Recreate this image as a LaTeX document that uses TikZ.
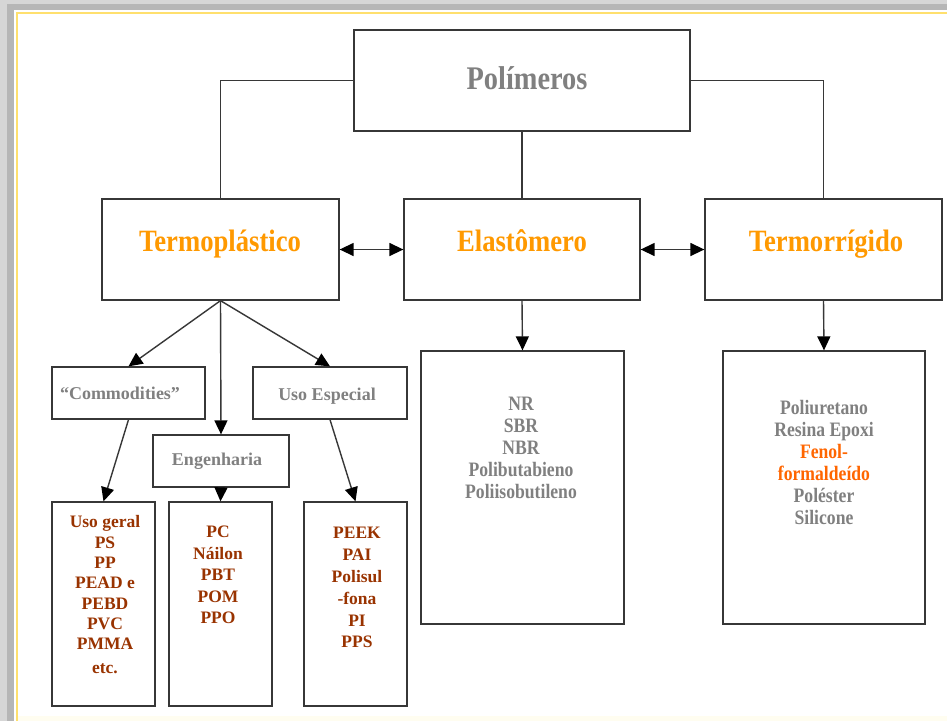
\documentclass[tikz,border=0pt]{standalone}
\usepackage{fontspec}
\setmainfont{Liberation Serif}
\newfontfamily\hdfont{Liberation Serif}[FakeStretch=0.86]
\usetikzlibrary{arrows.meta}
\definecolor{txtgrey}{RGB}{128,128,128}
\definecolor{orng}{RGB}{255,153,0}
\definecolor{brwn}{RGB}{153,51,0}
\definecolor{redorng}{RGB}{255,102,0}
\definecolor{boxline}{RGB}{55,55,55}
\definecolor{shadeA}{RGB}{214,214,214}
\definecolor{shadeB}{RGB}{182,182,182}
\definecolor{frameyel}{RGB}{255,224,110}
\definecolor{cream}{RGB}{255,253,240}
\begin{document}
\begin{tikzpicture}[x=1pt,y=-1pt,
  box/.style={draw=boxline,line width=1.3pt,inner sep=0pt,fill=white},
  conn/.style={draw=boxline,line width=1.4pt},
  tip/.tip={Triangle[length=14pt,width=13pt,color=black,fill=black]},
  arr/.style={conn,-tip},
  darr/.style={conn,tip-tip},
  bigtxt/.style={font=\hdfont\bfseries\fontsize{33}{36}\selectfont,text=txtgrey,inner sep=0pt,anchor=base},
  hdtxt/.style={font=\hdfont\bfseries\fontsize{31}{34}\selectfont,text=orng,inner sep=0pt,anchor=base},
  smtxt/.style={font=\bfseries\fontsize{18}{21}\selectfont,text=txtgrey,inner sep=0pt,anchor=base},
  mdtxt/.style={font=\hdfont\bfseries\fontsize{20.5}{22}\selectfont,inner sep=0pt,anchor=base},
  lsttxt/.style={font=\bfseries\fontsize{17.5}{21}\selectfont,text=brwn,inner sep=0pt,anchor=base}
]
\useasboundingbox (0,0) rectangle (947,721);
% frame / shadow
\fill[shadeA] (0,0) rectangle (947,721);
\fill[shadeB] (7,4) rectangle (947,721);
\fill[white] (14,10) rectangle (947,721);
\fill[cream] (17,716) rectangle (947,721);
\draw[frameyel,line width=2.5pt] (17,721) -- (17,13) -- (947,13);

% boxes
\node[box,minimum width=336pt,minimum height=101pt] (pol) at (522,80.5) {};
\node[box,minimum width=237pt,minimum height=101pt] (termo) at (220.5,249.5) {};
\node[box,minimum width=236pt,minimum height=101pt] (elast) at (522,249.5) {};
\node[box,minimum width=237pt,minimum height=101pt] (termorr) at (823.5,249.5) {};
\node[box,minimum width=203pt,minimum height=273pt] (elist) at (522.5,487.5) {};
\node[box,minimum width=202pt,minimum height=273pt] (tlist) at (824,487.5) {};
\node[box,minimum width=153pt,minimum height=52pt] (comm) at (128.5,393) {};
\node[box,minimum width=154pt,minimum height=52pt] (usoesp) at (330,393) {};
\node[box,minimum width=136pt,minimum height=52pt] (eng) at (221,461) {};
\node[box,minimum width=103pt,minimum height=204pt] (la) at (103.5,604) {};
\node[box,minimum width=103pt,minimum height=204pt] (lb) at (220.5,604) {};
\node[box,minimum width=103pt,minimum height=204pt] (lc) at (355.5,604) {};

% connectors
\draw[conn] (pol.west) -| (termo.north);
\draw[conn] (pol.east) -| (termorr.north);
\draw[conn] (pol.south) -- (elast.north);
\draw[darr] (termo.east) -- (elast.west);
\draw[darr] (elast.east) -- (termorr.west);
\draw[arr] (termo.south) -- (comm.north);
\draw[arr] (termo.south) -- (eng.north);
\draw[arr] (termo.south) -- (usoesp.north);
\draw[arr] (comm.south) -- (la.north);
\draw[arr] (eng.south) -- (lb.north);
\draw[arr] (usoesp.south) -- (lc.north);
\draw[arr] (elast.south) -- (elist.north);
\draw[arr] (termorr.south) -- (tlist.north);

% texts
\node[bigtxt] (tpol) at (527,89) {Polímeros};
\node[hdtxt] (ttermo) at (220,251) {Termoplástico};
\node[hdtxt] (telast) at (522,251) {Elastômero};
\node[hdtxt] (ttermorr) at (826,251) {Termorrígido};
\node[smtxt] (tcomm) at (120,399) {“Commodities”};
\node[smtxt] (tusoesp) at (327,400) {Uso Especial};
\node[smtxt] (teng) at (217,465.5) {Engenharia};

\foreach \t [count=\i] in {NR,SBR,NBR,Polibutabieno,Poliisobutileno}
  \node[mdtxt,text=txtgrey] (e\i) at (521,{404+6.8+22*(\i-1)}) {\t};
\foreach \t/\c [count=\i] in {Poliuretano/txtgrey,Resina Epoxi/txtgrey,Fenol-/redorng,formaldeído/redorng,Poléster/txtgrey,Silicone/txtgrey}
  \node[mdtxt,text=\c] (t\i) at (824,{408+6.8+22*(\i-1)}) {\t};
\foreach \t [count=\i] in {Uso geral,PS,PP,PEAD e,PEBD,PVC,PMMA}
  \node[lsttxt] (a\i) at (105,{522+5.8+20.3*(\i-1)}) {\t};
\node[lsttxt] (a8) at (105,{668+5.8}) {etc.};
\foreach \t [count=\i] in {PC,Náilon,PBT,POM,PPO}
  \node[lsttxt] (b\i) at (218,{532+5.8+21.5*(\i-1)}) {\t};
\foreach \t [count=\i] in {PEEK,PAI,Polisul,-fona,PI,PPS}
  \node[lsttxt] (c\i) at (357,{533+5.8+21.8*(\i-1)}) {\t};
\end{tikzpicture}
\end{document}
